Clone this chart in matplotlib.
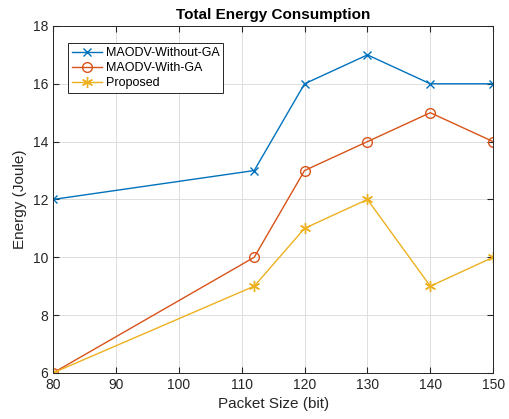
import matplotlib
matplotlib.use('Agg')
import matplotlib.pyplot as plt

packet_size = [80, 112, 120, 130, 140, 150]
without_ga = [12, 13, 16, 17, 16, 16]
with_ga = [6, 10, 13, 14, 15, 14]
proposed = [6, 9, 11, 12, 9, 10]

plt.rcParams['font.family'] = ['Liberation Sans', 'DejaVu Sans']

fig = plt.figure(figsize=(5.1, 4.19), dpi=100)
ax = fig.add_axes([0.104, 0.110, 0.863, 0.828])

ax.plot(packet_size, without_ga, color='#0072BD', marker='x', markersize=6, lw=1,
        label='MAODV-Without-GA')
ax.plot(packet_size, with_ga, color='#D95319', marker='o', markersize=7, lw=1,
        markerfacecolor='none', label='MAODV-With-GA')
ax.plot(packet_size, proposed, color='#EDB120', marker=(6, 2, 0), markersize=8, lw=1,
        markeredgewidth=1, label='Proposed')

ax.set_xlim(80, 150)
ax.set_ylim(6, 18)
ax.set_xticks(range(80, 151, 10))
ax.set_yticks(range(6, 19, 2))
ax.grid(True, color='#dedede', lw=0.7)
ax.set_axisbelow(True)
ax.tick_params(direction='in', length=4, colors='#262626', labelsize=10, top=True, right=True)
for s in ax.spines.values():
    s.set_color('#262626')
    s.set_linewidth(0.7)

ax.set_xlabel('Packet Size (bit)', fontsize=11, color='#262626')
ax.set_ylabel('Energy (Joule)', fontsize=11, color='#262626')
ax.set_title('Total Energy Consumption', fontsize=11, fontweight='bold', pad=5)

leg = ax.legend(loc='upper left', bbox_to_anchor=(0.034, 0.95), fontsize=9, fancybox=False,
                framealpha=1, edgecolor='#262626', borderpad=0.3, labelspacing=0.25,
                handlelength=2.4, handletextpad=0.3, borderaxespad=0)
leg.get_frame().set_linewidth(0.7)

fig.savefig('out.png', dpi=100)
